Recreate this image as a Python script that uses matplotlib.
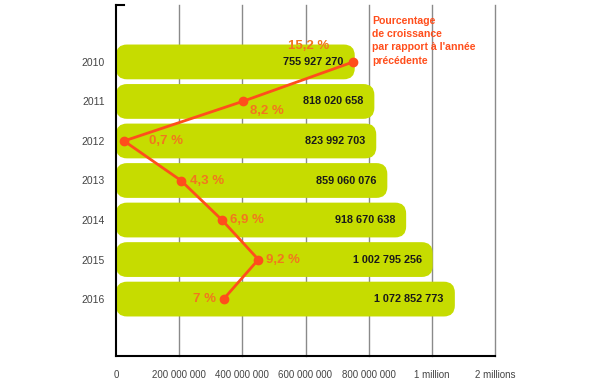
import matplotlib
matplotlib.use("Agg")
import matplotlib.pyplot as plt
from matplotlib.patches import FancyBboxPatch

# donnees
annees = ["2010", "2011", "2012", "2013", "2014", "2015", "2016"]
valeurs = [755927270, 818020658, 823992703, 859060076, 918670638, 1002795256, 1072852773]
etiquettes = ["755 927 270", "818 020 658", "823 992 703", "859 060 076",
              "918 670 638", "1 002 795 256", "1 072 852 773"]
croissance = [15.2, 8.2, 0.7, 4.3, 6.9, 9.2, 7.0]
etiq_pct = ["15,2 %", "8,2 %", "0,7 %", "4,3 %", "6,9 %", "9,2 %", "7 %"]
ticks_x = [0, 200e6, 400e6, 600e6, 800e6, 1000e6, 1200e6]
ticks_lbl = ["0", "200 000 000", "400 000 000", "600 000 000", "800 000 000",
             "1 million", "2 millions"]

vert = "#c6dc00"
rouge = "#ff4e1c"
orange = "#f2761e"
plt.rcParams["font.family"] = ["Liberation Sans", "DejaVu Sans"]

fig = plt.figure(figsize=(6, 3.84), dpi=100)
ax = fig.add_axes([116 / 600, 1 - 356 / 384, 379 / 600, 351 / 384])
xmax = 1200e6
ax.set_xlim(0, xmax)
ax.set_ylim(6 + 1.44, -1.44)

# conversion pixels -> unites de donnees pour les coins arrondis
px_x = xmax / 379
px_y = (7.44 + 1.44) / 351
h = 0.88
for i, v in enumerate(valeurs):
    box = FancyBboxPatch((0, i - h / 2), v, h,
                         boxstyle="round,pad=0,rounding_size=%g" % (11 * px_x),
                         mutation_aspect=px_y / px_x,
                         fc=vert, ec="none", zorder=2)
    ax.add_patch(box)
    ax.text(v - 11 * px_x, i, etiquettes[i], ha="right", va="center",
            fontsize=7.8, fontweight="bold", color="#1a1a1a", zorder=5)

for x in ticks_x[1:]:
    ax.axvline(x, color="#8a8a8a", lw=1, zorder=1, clip_on=False)

ax.set_xticks(ticks_x)
ax.set_xticklabels(ticks_lbl, fontsize=7, color="#444444")
ax.tick_params(axis="x", length=0, pad=10)
ax.set_yticks(range(len(annees)))
ax.set_yticklabels(annees, fontsize=7.5, color="#444444")
ax.tick_params(axis="y", length=0, pad=8)
for s in ["top", "right"]:
    ax.spines[s].set_visible(False)
ax.spines["left"].set_linewidth(1.5)
ax.spines["bottom"].set_linewidth(1.5)
ax.plot([0, 8 * px_x], [-1.44, -1.44], color="black", lw=1.5, clip_on=False, zorder=6)

# courbe du pourcentage de croissance
ax2 = ax.twiny()
ax2.set_xlim((116 - 113) / 15.8, (495 - 113) / 15.8)
ax2.set_ylim(ax.get_ylim())
ax2.axis("off")
yy = list(range(len(annees)))
ax2.plot(croissance, yy, color=rouge, lw=2, marker="o", ms=6, zorder=4)

decal = [(-2.8, -0.4, "center"), (0.5, 0.25, "left"), (1.6, 0, "left"),
         (0.6, 0, "left"), (0.5, 0, "left"), (0.5, 0, "left"), (-0.5, 0, "right")]
for p, y, t, (dx, dy, ha) in zip(croissance, yy, etiq_pct, decal):
    ax2.text(p + dx, y + dy, t, ha=ha, va="center", fontsize=9.5,
             fontweight="bold", color=orange, zorder=5)

fig.text(372 / 600, 1 - 16 / 384,
         "Pourcentage\nde croissance\npar rapport à l'année\nprécédente",
         ha="left", va="top", fontsize=7.6, fontweight="bold", color=rouge,
         linespacing=1.4)

fig.savefig("out.png", dpi=100, facecolor="white")
